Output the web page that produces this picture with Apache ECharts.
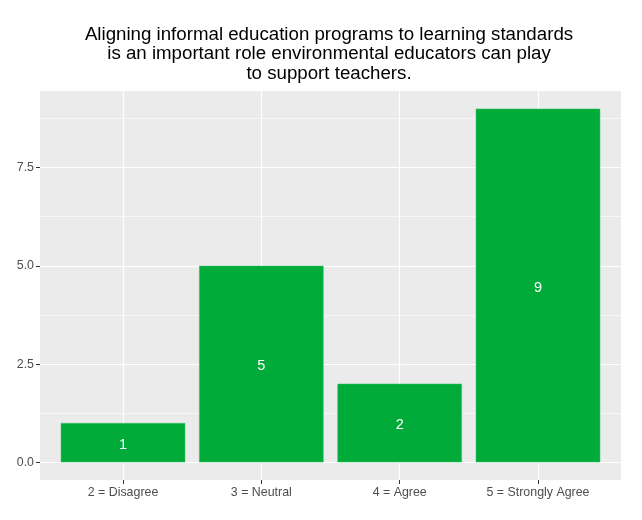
<!DOCTYPE html>
<html>
<head>
<meta charset="utf-8">
<script src="https://cdn.jsdelivr.net/npm/echarts@6/dist/echarts.min.js"></script>
<style>
  html,body{margin:0;padding:0;background:#fff;}
  #main{width:642px;height:520px;}
</style>
</head>
<body>
<div id="main"></div>
<script>
// chart data
var titleText = 'Aligning informal education programs to learning standards\nis an important role environmental educators can play\nto support teachers.';
var categories = ['2 = Disagree', '3 = Neutral', '4 = Agree', '5 = Strongly Agree'];
var counts = [1, 5, 2, 9];
var yTicks = [0, 2.5, 5, 7.5];
var yMinorTicks = [1.25, 3.75, 6.25, 8.75];

var catIdx = categories.map(function(c, i){ return i; });

var myChart = echarts.init(document.getElementById('main'));

var option = {
    backgroundColor: '#ffffff',
    animation: false,
    title: {
        text: titleText,
        left: 324,
        textAlign: 'center',
        top: 20,
        textStyle: {
            fontFamily: 'Liberation Sans',
            fontSize: 18.7,
            fontWeight: 'normal',
            color: '#000',
            lineHeight: 19.5
        }
    },
    grid: {
        left: 40,
        right: 21,
        top: 91,
        bottom: 40,
        show: true,
        backgroundColor: '#EBEBEB',
        borderWidth: 0
    },
    xAxis: {
        type: 'value',
        min: -0.6,
        max: 3.6,
        axisLine: {show: false, onZero: false},
        axisTick: {
            show: true,
            customValues: catIdx,
            length: 4,
            lineStyle: {color: '#333', width: 1}
        },
        axisLabel: {
            customValues: catIdx,
            formatter: function(v){ return categories[Math.round(v)]; },
            color: '#4D4D4D',
            fontFamily: 'Liberation Sans',
            fontSize: 12.4,
            margin: 7
        },
        splitLine: {show: true, lineStyle: {color: '#fff', width: 1.2}}
    },
    yAxis: [{
        type: 'value',
        min: -0.45,
        max: 9.45,
        axisLine: {show: false, onZero: false},
        axisTick: {
            show: true,
            customValues: yTicks,
            length: 4,
            lineStyle: {color: '#333', width: 1}
        },
        axisLabel: {
            customValues: yTicks,
            formatter: function(v){ return v.toFixed(1); },
            color: '#4D4D4D',
            fontFamily: 'Liberation Sans',
            fontSize: 12.4,
            margin: 6
        },
        splitLine: {show: true, lineStyle: {color: '#fff', width: 1.2}}
    }, {
        type: 'value',
        min: -0.45,
        max: 9.45,
        position: 'left',
        axisLine: {show: false, onZero: false},
        axisTick: {show: false, customValues: yMinorTicks},
        axisLabel: {show: false, customValues: yMinorTicks},
        splitLine: {show: true, lineStyle: {color: '#fff', width: 0.6}}
    }],
    series: [{
        type: 'bar',
        data: counts.map(function(v, i){ return [i, v]; }),
        barWidth: '90%',
        itemStyle: {
            color: '#00AB3A',
            borderColor: '#3DC46A',
            borderWidth: 0.5
        },
        label: {
            show: true,
            position: 'inside',
            offset: [0, 2],
            formatter: function(p){ return p.value[1]; },
            color: '#fff',
            fontFamily: 'Liberation Sans',
            fontSize: 14.5
        },
        z: 3
    }]
};

myChart.setOption(option);
</script>
</body>
</html>
